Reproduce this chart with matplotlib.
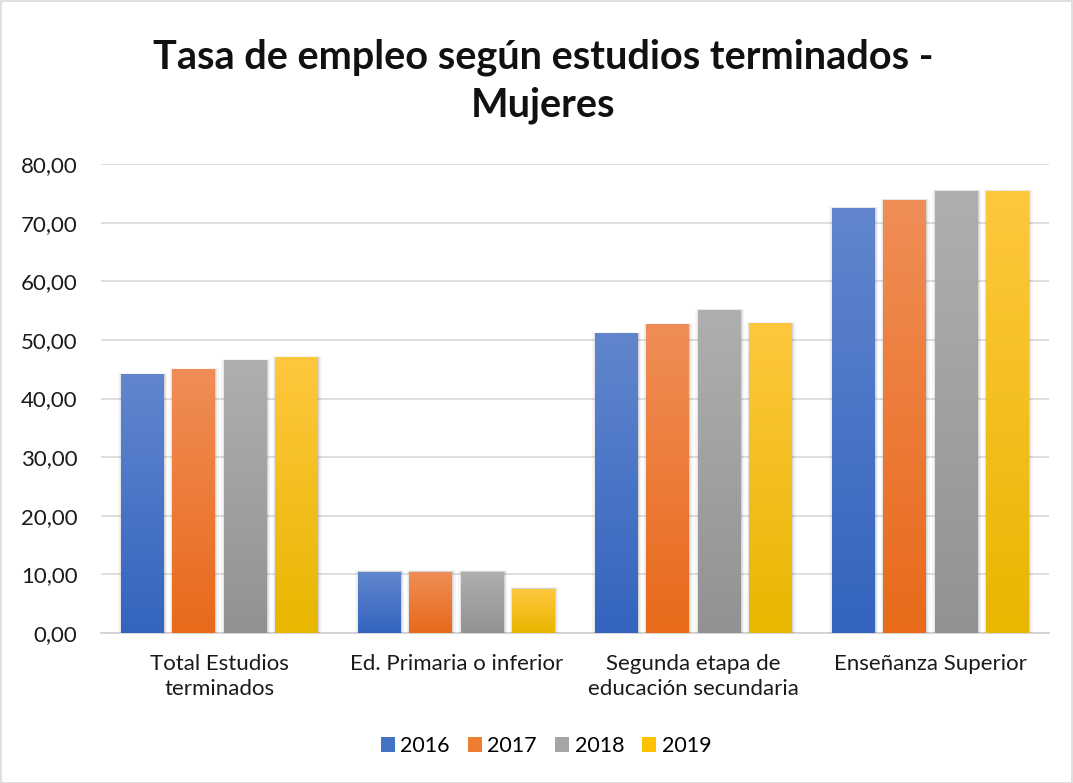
import matplotlib
matplotlib.use('Agg')
import matplotlib.pyplot as plt
import numpy as np
from matplotlib.colors import to_rgb
from matplotlib.patches import Rectangle, Patch
from matplotlib.ticker import FuncFormatter

categories = ["Total Estudios\nterminados", "Ed. Primaria o inferior",
              "Segunda etapa de\neducación secundaria", "Enseñanza Superior"]
years = ["2016", "2017", "2018", "2019"]
v2016 = [44.1, 10.45, 51.1, 72.5]
v2017 = [44.95, 10.45, 52.65, 73.85]
v2018 = [46.5, 10.45, 55.05, 75.35]
v2019 = [47.0, 7.55, 52.8, 75.35]
series = [v2016, v2017, v2018, v2019]
title = "Tasa de empleo según estudios terminados -\nMujeres"
yticks = [0, 10, 20, 30, 40, 50, 60, 70, 80]

top_cols = ["#6186cd", "#f08d57", "#afafaf", "#ffc73e"]
bot_cols = ["#3464bf", "#e86a1a", "#929292", "#e9b600"]
mid_cols = ["#4472c4", "#ed7d31", "#a5a5a5", "#ffc000"]

FONT = "Lato"
plt.rcParams['font.family'] = [FONT, 'DejaVu Sans']

fig = plt.figure(figsize=(10.73, 7.83), dpi=100)
W, H = 1073, 783
ax = fig.add_axes([101 / W, 1 - 633 / H, 948 / W, (633 - 164) / H])

x = np.arange(len(categories))
step = 0.2173
width = 0.181
offsets = (np.arange(4) - 1.5) * step

for i, vals in enumerate(series):
    pos = x + offsets[i]
    # soft shadow
    for grow, a in [(0.012, 0.04), (0.007, 0.06), (0.003, 0.08)]:
        for p, v in zip(pos, vals):
            ax.add_patch(Rectangle((p - width / 2 - grow + 0.002, 0), width + 2 * grow,
                                   v + grow * 20, facecolor='black', alpha=a,
                                   edgecolor='none', zorder=2))
    bars = ax.bar(pos, vals, width=width, color=mid_cols[i], zorder=3, edgecolor='none')
    c1 = np.array(to_rgb(top_cols[i]))
    c2 = np.array(to_rgb(bot_cols[i]))
    t = np.linspace(0, 1, 256)[:, None]
    grad = (c1[None, :] * (1 - t) + c2[None, :] * t)[:, None, :]
    for b, v in zip(bars, vals):
        x0 = b.get_x()
        im = ax.imshow(grad, extent=[x0, x0 + width, 0, v], aspect='auto',
                       zorder=4, interpolation='bilinear', origin='upper')
        im.set_clip_path(b)

ax.set_xlim(-0.5, 3.5)
ax.set_ylim(0, 80)
ax.set_yticks(yticks)
ax.yaxis.set_major_formatter(FuncFormatter(lambda v, p: f"{v:.2f}".replace('.', ',')))
ax.set_xticks(x)
ax.set_xticklabels(categories, linespacing=1.32)
ax.grid(axis='y', color='#d9d9d9', linewidth=1.2, zorder=0)
ax.set_axisbelow(True)
for s in ['top', 'right', 'left']:
    ax.spines[s].set_visible(False)
ax.spines['bottom'].set_color('#d0d0d0')
ax.spines['bottom'].set_linewidth(1.2)
ax.spines['bottom'].set_zorder(1)
ax.tick_params(axis='both', length=0, labelsize=16, colors='#1a1a1a')
ax.tick_params(axis='y', pad=17)
ax.tick_params(axis='x', pad=15)

fig.text(543 / W, 1 - 81 / H, title, ha='center', va='center', fontsize=28.5,
         fontweight='bold', color='#111111', linespacing=1.36)

handles = [Patch(facecolor=mid_cols[i], edgecolor='none', label=years[i]) for i in range(4)]
fig.legend(handles=handles, loc='center', bbox_to_anchor=(546 / W, 1 - 746 / H), ncol=4,
           frameon=False, fontsize=15.5, handlelength=0.65, handleheight=0.65,
           handletextpad=0.25, columnspacing=0.85)

fig.add_artist(Rectangle((0.5 / W, 0.5 / H), 1 - 1.5 / W, 1 - 1.5 / H, transform=fig.transFigure,
                         facecolor='none', edgecolor='#d9d9d9', linewidth=1.2))

fig.savefig('out.png', dpi=100)
